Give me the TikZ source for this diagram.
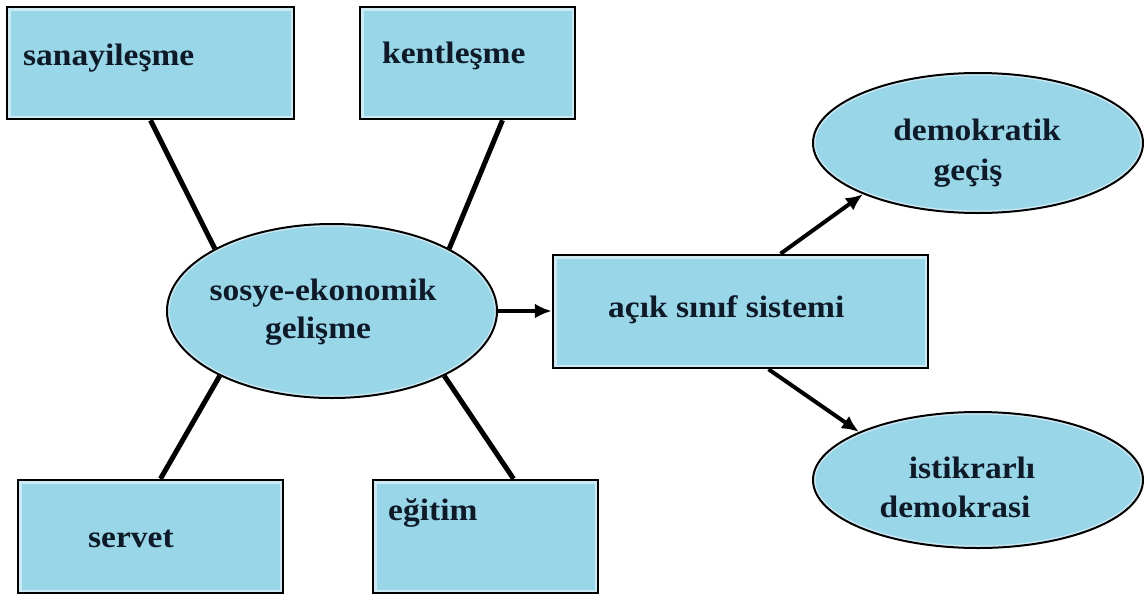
\documentclass[tikz,border=0pt]{standalone}
\usepackage{fontspec}
\setmainfont{Liberation Serif}[FakeStretch=1.08]
\usetikzlibrary{arrows.meta,shapes.geometric,calc}
\definecolor{boxfill}{RGB}{152,214,232}
\definecolor{rimcol}{RGB}{205,233,243}
\definecolor{txtcol}{RGB}{14,26,40}
\tikzset{
  boxnode/.style={draw=black, line width=2.5pt, fill=boxfill, inner sep=0pt,
    path picture={\draw[rimcol,line width=7pt] (path picture bounding box.south west) rectangle (path picture bounding box.north east);}},
  ellnode/.style={ellipse, draw=black, line width=2pt, fill=boxfill, inner sep=0pt,
    path picture={\draw[rimcol, line width=5pt] let \p1=(path picture bounding box.north east), \p2=(path picture bounding box.center) in (\p2) ellipse [x radius={\x1-\x2}, y radius={\y1-\y2}];}},
  lbl/.style={text=txtcol, font=\fontsize{31}{37}\selectfont\bfseries, inner sep=0pt, anchor=base},
  link/.style={line width=5pt, black},
  arr/.style={line width=4pt, black, -{Latex[length=17pt,width=15pt]}},
}
\begin{document}
\begin{tikzpicture}[x=1pt,y=-1pt]
\useasboundingbox (0,0) rectangle (1144,595);
% boxes
\node[boxnode, minimum width=287pt, minimum height=112pt] (san) at (150.5,63) {};
\node[boxnode, minimum width=215pt, minimum height=112pt] (kent) at (467.5,63) {};
\node[boxnode, minimum width=265pt, minimum height=113pt] (serv) at (150.5,536.5) {};
\node[boxnode, minimum width=225pt, minimum height=113pt] (egit) at (485.5,536.5) {};
\node[boxnode, minimum width=375pt, minimum height=113pt] (acik) at (740.5,311.5) {};
% ellipses
\node[ellnode, minimum width=330pt, minimum height=174pt] (se) at (332,311) {};
\node[ellnode, minimum width=330pt, minimum height=140pt] (dem) at (978,143) {};
\node[ellnode, minimum width=330pt, minimum height=136pt] (ist) at (978,480) {};
% connectors
\draw[link] (san.south) -- (se.152);
\draw[link] ($(kent.south)+(35,0)$) -- (se.28);
\draw[link] ($(serv.north)+(10,0)$) -- (se.210);
\draw[link] ($(egit.north)+(28,0)$) -- (se.330);
\draw[arr] (se.east) -- (se.east -| acik.west);
\draw[arr] ($(acik.north)+(40,0)$) -- (dem.204);
\draw[arr] ($(acik.south)+(28,0)$) -- (ist.158);
% labels
\node[lbl, anchor=base west] (tsan) at (23,65) {sanayileşme};
\node[lbl, anchor=base west] (tkent) at (382,63) {kentleşme};
\node[lbl, anchor=base west] (tserv) at (88,547) {servet};
\node[lbl, anchor=base west] (tegit) at (388,520) {eğitim};
\node[lbl, anchor=base west] (tacik) at (608,317) {açık sınıf sistemi};
\node[lbl] (tse1) at (323,300) {sosye-ekonomik};
\node[lbl] (tse2) at (318,338) {gelişme};
\node[lbl] (tdem1) at (977,140) {demokratik};
\node[lbl] (tdem2) at (968,180) {geçiş};
\node[lbl] (tist1) at (972,478) {istikrarlı};
\node[lbl] (tist2) at (955,517) {demokrasi};
\end{tikzpicture}
\end{document}
